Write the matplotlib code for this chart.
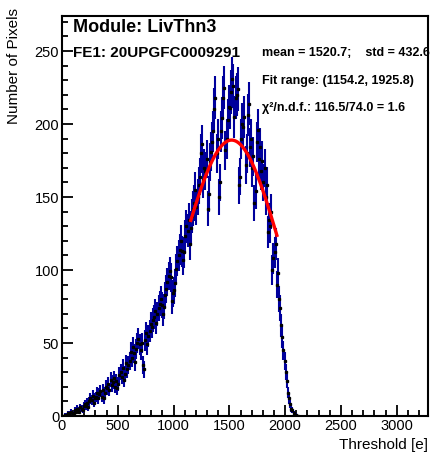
import numpy as np
import matplotlib
matplotlib.use("Agg")
import matplotlib.pyplot as plt
from matplotlib.ticker import MultipleLocator

plt.rcParams['font.family'] = ['Liberation Sans', 'DejaVu Sans']

# Histogram data (bin width 10 e)
bin_width = 10
counts = [
    0, 0, 1, 0, 1, 2, 1, 2, 3, 2, 2, 4, 3, 5, 4, 3, 6, 5, 4, 7,
    8, 7, 9, 6, 10, 12, 11, 14, 9, 12, 13, 16, 12, 15, 17, 13, 18, 12, 16, 20,
    19, 22, 18, 25, 21, 23, 26, 20, 24, 19, 22, 28, 30, 27, 33, 25, 29, 36, 32, 35,
    38, 44, 40, 47, 43, 37, 46, 50, 53, 49, 45, 50, 35, 32, 52, 57, 49, 55, 58, 63,
    61, 66, 68, 72, 64, 70, 74, 77, 80, 76, 70, 75, 83, 87, 92, 96, 99, 95, 79, 84,
    86, 91, 101, 106, 110, 114, 120, 113, 107, 112, 123, 130, 127, 134, 118, 129, 137, 142, 146, 155,
    143, 150, 158, 164, 180, 186, 162, 170, 168, 176, 142, 152, 174, 181, 188, 195, 210, 218, 180, 190,
    150, 160, 195, 204, 218, 225, 182, 190, 203, 212, 211, 222, 231, 226, 205, 218, 220, 224, 158, 164,
    190, 200, 198, 205, 172, 180, 206, 214, 184, 190, 170, 178, 146, 154, 188, 196, 176, 184, 168, 175,
    160, 170, 150, 158, 126, 134, 130, 140, 100, 108, 112, 118, 90, 98, 80, 74, 62, 54, 45, 38,
    30, 24, 16, 12, 8, 5, 4, 2, 1, 1, 0, 0,
]

# Gaussian fit parameters
fit_amp = 189.0
fit_mean = 1520.0
fit_sigma = 441.0
fit_range = (1154.2, 1925.8)

title = "Module: LivThn3"
fe_label = "FE1: 20UPGFC0009291"
stats_text = "mean = 1520.7;    std = 432.6"
range_text = "Fit range: (1154.2, 1925.8)"
chi2_text = "\u03c7\u00b2/n.d.f.: 116.5/74.0 = 1.6"

counts = np.array(counts, dtype=float)
centers = bin_width * (np.arange(len(counts)) + 0.5)

W, H = 442, 455
fig = plt.figure(figsize=(W / 100, H / 100), dpi=100)
ax = fig.add_axes([62 / W, 1 - 416 / H, (428 - 62) / W, (416 - 16) / H])

ax.errorbar(centers, counts, yerr=np.sqrt(counts), fmt='s', ms=1.4,
            mfc='k', mec='k', ecolor='#00009c', elinewidth=1.5, capsize=0,
            zorder=2)

xf = np.linspace(fit_range[0], fit_range[1], 200)
yf = fit_amp * np.exp(-(xf - fit_mean) ** 2 / (2 * fit_sigma ** 2))
ax.plot(xf, yf, color='red', lw=2.4, zorder=3)

ax.set_xlim(0, 3280)
ax.set_ylim(0, 274)
ax.xaxis.set_major_locator(MultipleLocator(500))
ax.xaxis.set_minor_locator(MultipleLocator(100))
ax.yaxis.set_major_locator(MultipleLocator(50))
ax.yaxis.set_minor_locator(MultipleLocator(10))
ax.tick_params(which='both', direction='in', top=False, right=False,
               width=1.3, labelsize=10.5, pad=2)
ax.tick_params(which='major', length=8)
ax.tick_params(which='minor', length=4)
for s in ax.spines.values():
    s.set_linewidth(1.5)

fig.text(73 / W, 1 - 28 / H, title, fontsize=13, fontweight='bold', va='center')
fig.text(73 / W, 1 - 53 / H, fe_label, fontsize=11, fontweight='bold', va='center')
fig.text(262 / W, 1 - 53 / H, stats_text, fontsize=9, fontweight='bold', va='center')
fig.text(262 / W, 1 - 81 / H, range_text, fontsize=9, fontweight='bold', va='center')
fig.text(262 / W, 1 - 108 / H, chi2_text, fontsize=9, fontweight='bold', va='center')

fig.text(14 / W, 1 - 8 / H, "Number of Pixels", rotation=90, fontsize=11,
         ha='center', va='top')
fig.text(428 / W, 1 - 445 / H, "Threshold [e]", fontsize=11, ha='right', va='center')

fig.savefig("out.png", dpi=100)
